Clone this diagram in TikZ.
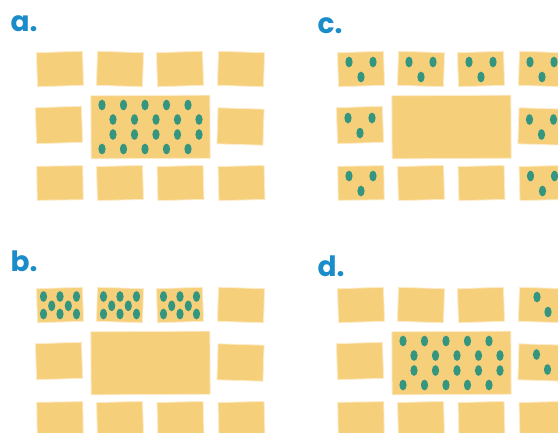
\documentclass[tikz,border=0pt]{standalone}
\usepackage{fontspec}
\newfontfamily\labfont{Poppins}
\definecolor{tablefill}{HTML}{F6CF7A}
\definecolor{tableedge}{HTML}{FCEBC6}
\definecolor{seatcol}{HTML}{35967F}
\definecolor{labcol}{HTML}{1A8CC9}

\begin{document}
\begin{tikzpicture}[
    x=1pt, y=-1pt,
    tab/.style={rectangle, fill=tablefill, draw=tableedge, line width=0.8pt,
        minimum width=46pt, minimum height=34pt, inner sep=0pt},
    mid/.style={tab, minimum height=36pt},
    big/.style={tab, minimum width=119pt, minimum height=63pt},
    seat/.style={fill=seatcol, x radius=3.6pt, y radius=5.4pt},
    lab/.style={anchor=base west, inner sep=0pt, text=labcol,
        font=\labfont\bfseries\fontsize{28}{28}\selectfont}
]
\useasboundingbox (0,0) rectangle (558,432);
\clip (0,0) rectangle (558,432);

% the same room four times
\foreach \p/\dx/\dy in {a/0/0, b/0/236, c/301/0, d/301/236} {
  \begin{scope}[shift={(\dx,\dy)}]
    \node[tab, rotate=1.8]  (\p-top1) at (60,69) {};
    \node[tab, rotate=-1.8] (\p-top2) at (120,69) {};
    \node[tab, rotate=1.8]  (\p-top3) at (180,69) {};
    \node[tab, rotate=-1.8] (\p-top4) at (241,69) {};

    \node[mid, rotate=1.8]  (\p-left)  at (59,125) {};
    \node[big, rotate=0.3]  (\p-big)   at (150.5,127) {};
    \node[mid, rotate=-1.8] (\p-right) at (240.5,126.5) {};

    \node[tab, rotate=0.8] (\p-bot1) at (60,183) {};
    \node[tab, rotate=1.5] (\p-bot2) at (120,183) {};
    \node[tab, rotate=1.5] (\p-bot3) at (180.5,183) {};
    \node[tab, rotate=1.5] (\p-bot4) at (241.5,183) {};
  \end{scope}
}

\node[lab] (la) at (10.5,31) {a.};
\node[lab] (lb) at (10.5,271) {b.};
\node[lab] (lc) at (317.5,33) {c.};
\node[lab] (ld) at (317.5,276) {d.};

% a and d: everyone at the big table
\foreach \p in {a,d} {
  \foreach \sy in {-22,22}
    \foreach \sx in {-48.5,-27,-5.5,16,37.5}
      \fill[seat] ([shift={(\sx,\sy)}]\p-big.center) ellipse;
  \foreach \sy in {-7.5,7.5}
    \foreach \sx in {-37.5,-16,5.5,27,48.5}
      \fill[seat] ([shift={(\sx,\sy)}]\p-big.center) ellipse;
}

% b: packed into three tables
\foreach \t in {top1,top2,top3}
  \foreach \sx/\sy in {-16.5/-8.5, 0/-8.5, 16.5/-8.5, -8.3/0.8, 8.3/0.8,
                       -16.5/9, 0/9, 16.5/9}
    \fill[seat] ([shift={(\sx,\sy)}]b-\t.center) ellipse;

% c: three per small table
\foreach \t in {top1,top2,top3,top4,left,right,bot1,bot4}
  \foreach \sx/\sy in {-12/-7, 12/-7, 0/8}
    \fill[seat] ([shift={(\sx,\sy)}]c-\t.center) ellipse;

% d: the two on the right
\foreach \t in {top4,right}
  \foreach \sx/\sy in {-5/-8, 6/7}
    \fill[seat] ([shift={(\sx,\sy)}]d-\t.center) ellipse;
\end{tikzpicture}
\end{document}
